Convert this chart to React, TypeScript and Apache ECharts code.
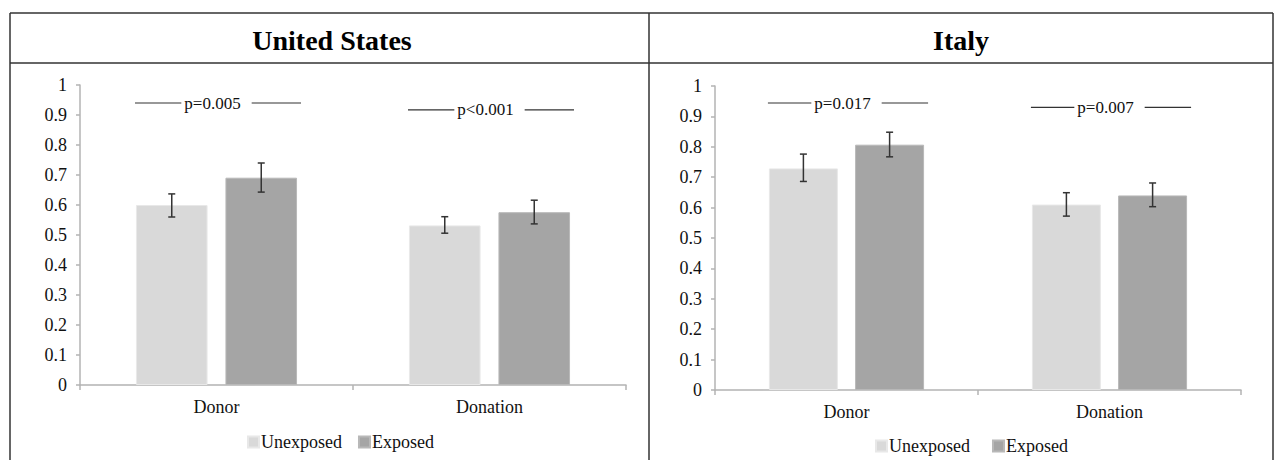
import React, { useEffect, useRef } from "react";
import * as echarts from "echarts";

const categories = ["Donor", "Donation"];
const seriesNames = ["Unexposed", "Exposed"];
const yTicks = [0, 0.1, 0.2, 0.3, 0.4, 0.5, 0.6, 0.7, 0.8, 0.9, 1];

const usUnexposed = [0.6, 0.532];
const usExposed = [0.691, 0.576];
const usUnexposedErr = [[0.56, 0.637], [0.506, 0.561]];
const usExposedErr = [[0.643, 0.74], [0.537, 0.616]];
const usPValues = ["p=0.005", "p<0.001"];
const usPLevel = [0.94, 0.917];

const itUnexposed = [0.729, 0.61];
const itExposed = [0.807, 0.64];
const itUnexposedErr = [[0.686, 0.776], [0.572, 0.649]];
const itExposedErr = [[0.767, 0.848], [0.603, 0.681]];
const itPValues = ["p=0.017", "p=0.007"];
const itPLevel = [0.944, 0.93];

const panelTitles = ["United States", "Italy"];

const FONT = '"Liberation Serif", "Times New Roman", serif';
const COLORS = ["#d9d9d9", "#a5a5a5"];
const CAT_GAP = 0.41;
const BAR_GAP = 0.25;

function barWidthOf(catW: number) {
  return (catW * (1 - CAT_GAP)) / (2 + BAR_GAP);
}

let measureCtx: CanvasRenderingContext2D | null = null;
function textWidth(t: string) {
  if (!measureCtx) measureCtx = document.createElement("canvas").getContext("2d");
  if (!measureCtx) return t.length * 8;
  measureCtx.font = "17px " + FONT;
  return measureCtx.measureText(t).width;
}

function errRender(params: any, api: any) {
  const c = api.value(0);
  const side = api.value(3);
  const lo = api.coord([c, api.value(1)]);
  const hi = api.coord([c, api.value(2)]);
  const catW = api.size([1, 0])[0];
  const bw = barWidthOf(catW);
  const x = lo[0] + side * (bw * (1 + BAR_GAP)) / 2;
  const cap = 3.5;
  const style = { stroke: "#333", lineWidth: 1.5 };
  return {
    type: "group",
    children: [
      { type: "line", shape: { x1: x, y1: lo[1], x2: x, y2: hi[1] }, style },
      { type: "line", shape: { x1: x - cap, y1: lo[1], x2: x + cap, y2: lo[1] }, style },
      { type: "line", shape: { x1: x - cap, y1: hi[1], x2: x + cap, y2: hi[1] }, style },
    ],
  };
}

function makePRender(texts: string[]) {
  return (params: any, api: any) => {
    const c = api.value(0);
    const p = api.coord([c, api.value(1)]);
    const catW = api.size([1, 0])[0];
    const bw = barWidthOf(catW);
    const half = (bw * (2 + BAR_GAP)) / 2;
    const text = texts[params.dataIndex];
    const tw = textWidth(text);
    const tx = p[0] - 4;
    const style = { stroke: "#333", lineWidth: 1.2 };
    return {
      type: "group",
      children: [
        { type: "line", shape: { x1: p[0] - half - 1, y1: p[1], x2: tx - tw / 2 - 3, y2: p[1] }, style },
        { type: "line", shape: { x1: tx + tw / 2 + 11, y1: p[1], x2: p[0] + half + 4, y2: p[1] }, style },
        {
          type: "text",
          style: {
            text,
            x: tx,
            y: p[1],
            align: "center",
            verticalAlign: "middle",
            fontSize: 17,
            fontFamily: FONT,
            fill: "#111",
          },
        },
      ],
    };
  };
}

function panelSeries(
  idx: number,
  unexp: number[],
  exp: number[],
  unexpErr: number[][],
  expErr: number[][],
  pTexts: string[],
  pLevel: number[]
) {
  const common = { xAxisIndex: idx, yAxisIndex: idx };
  return [
    {
      ...common,
      name: seriesNames[0],
      type: "bar",
      data: unexp,
      barCategoryGap: CAT_GAP * 100 + "%",
      barGap: BAR_GAP * 100 + "%",
      itemStyle: { color: COLORS[0], borderColor: "#e8e8e8", borderWidth: 1 },
    },
    {
      ...common,
      name: seriesNames[1],
      type: "bar",
      data: exp,
      barCategoryGap: CAT_GAP * 100 + "%",
      barGap: BAR_GAP * 100 + "%",
      itemStyle: { color: COLORS[1], borderColor: "#b8b8b8", borderWidth: 1 },
    },
    {
      ...common,
      type: "custom",
      name: "errU" + idx,
      renderItem: errRender,
      encode: { x: 0, y: [1, 2] },
      z: 5,
      data: unexpErr.map((e, i) => [i, e[0], e[1], -1]),
    },
    {
      ...common,
      type: "custom",
      name: "errE" + idx,
      renderItem: errRender,
      encode: { x: 0, y: [1, 2] },
      z: 5,
      data: expErr.map((e, i) => [i, e[0], e[1], 1]),
    },
    {
      ...common,
      type: "custom",
      name: "p" + idx,
      renderItem: makePRender(pTexts),
      encode: { x: 0, y: 1 },
      z: 5,
      data: pLevel.map((v, i) => [i, v]),
    },
  ];
}

function axisPair(idx: number) {
  const axisColor = "#b3b3b3";
  return {
    x: {
      type: "category",
      gridIndex: idx,
      data: categories,
      axisLine: { lineStyle: { color: axisColor, width: 1.5 } },
      axisTick: { show: true, length: 5, lineStyle: { color: axisColor, width: 1.5 } },
      axisLabel: { color: "#111", fontSize: 18, fontFamily: FONT, margin: 13 },
    },
    y: {
      type: "value",
      gridIndex: idx,
      min: 0,
      max: 1,
      interval: 0.1,
      splitLine: { show: false },
      axisLine: { show: true, lineStyle: { color: axisColor, width: 1.5 } },
      axisTick: { show: true, length: 4, lineStyle: { color: axisColor, width: 1.5 } },
      axisLabel: {
        color: "#111",
        fontSize: 18,
        fontFamily: FONT,
        margin: 13,
        formatter: (v: number) => {
          const t = yTicks.find((k) => Math.abs(k - v) < 1e-9);
          return String(t !== undefined ? t : v);
        },
      },
    },
  };
}

function legendAt(left: number, top: number, gap: number) {
  return {
    data: seriesNames,
    left,
    top,
    icon: "rect",
    itemWidth: 11,
    itemHeight: 11,
    itemGap: gap,
    textStyle: { fontSize: 18, fontFamily: FONT, color: "#111", padding: [0, 0, 0, -3] },
  };
}

export default function App() {
  const ref = useRef<HTMLDivElement>(null);
  useEffect(() => {
    if (!ref.current) return;
    const chart = echarts.init(ref.current, undefined, { renderer: "svg" });
    const a0 = axisPair(0);
    const a1 = axisPair(1);
    const border = { stroke: "#333", lineWidth: 1.5 };
    const titleStyle = (text: string) => ({
      text,
      align: "center",
      verticalAlign: "middle",
      fontSize: 28,
      fontWeight: "bold",
      fontFamily: FONT,
      fill: "#000",
    });
    chart.setOption({
      animation: false,
      backgroundColor: "#fff",
      grid: [
        { left: 80, top: 85, width: 546, height: 300 },
        { left: 715, top: 86, width: 526, height: 304 },
      ],
      xAxis: [a0.x, a1.x],
      yAxis: [a0.y, a1.y],
      legend: [legendAt(242, 428, 16), legendAt(870, 432, 22)],
      graphic: [
        { type: "line", shape: { x1: 10, y1: 13, x2: 1273, y2: 13 }, style: border },
        { type: "line", shape: { x1: 10, y1: 63, x2: 1273, y2: 63 }, style: border },
        { type: "line", shape: { x1: 10, y1: 13, x2: 10, y2: 460 }, style: border },
        { type: "line", shape: { x1: 649, y1: 13, x2: 649, y2: 460 }, style: border },
        { type: "line", shape: { x1: 1273, y1: 13, x2: 1273, y2: 460 }, style: border },
        { type: "text", x: 332, y: 40, style: titleStyle(panelTitles[0]) },
        { type: "text", x: 961, y: 40, style: titleStyle(panelTitles[1]) },
      ],
      series: [
        ...panelSeries(0, usUnexposed, usExposed, usUnexposedErr, usExposedErr, usPValues, usPLevel),
        ...panelSeries(1, itUnexposed, itExposed, itUnexposedErr, itExposedErr, itPValues, itPLevel),
      ],
    });
    return () => chart.dispose();
  }, []);
  return (
    <div
      ref={ref}
      style={{ position: "fixed", left: 0, top: 0, width: 1275, height: 460, background: "#fff" }}
    />
  );
}
